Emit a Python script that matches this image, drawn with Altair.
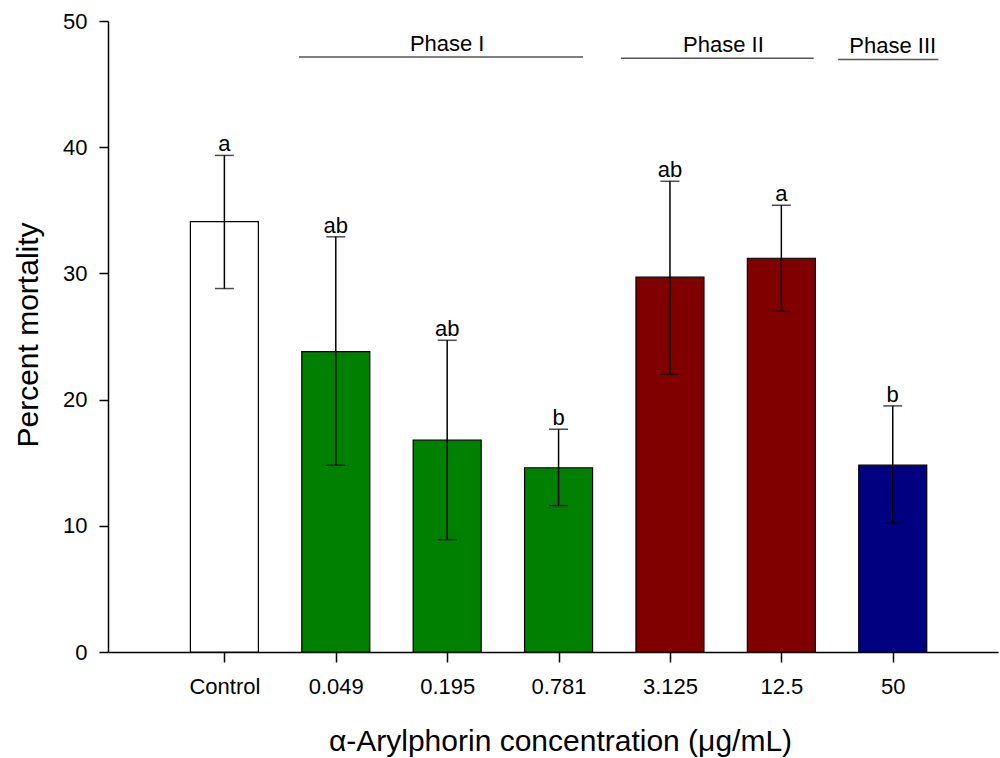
import altair as alt
import pandas as pd

# ---- data ----
categories = ["Control", "0.049", "0.195", "0.781", "3.125", "12.5", "50"]
means = [34.1, 23.8, 16.8, 14.6, 29.7, 31.2, 14.8]
err_hi = [39.35, 32.9, 24.7, 17.65, 37.3, 35.4, 19.5]
err_lo = [28.8, 14.8, 8.9, 11.6, 22.0, 27.0, 10.2]
letters = ["a", "ab", "ab", "b", "ab", "a", "b"]
bar_colors = ["#FFFFFF", "#008000", "#008000", "#008000", "#800000", "#800000", "#000080"]

phase_names = ["Phase I", "Phase II", "Phase III"]
phase_start = [1.67, 4.56, 6.51]
phase_end = [4.22, 6.29, 7.41]
phase_y = [47.15, 47.05, 46.95]
phase_label_x = [3.0, 5.48, 7.0]

FONT = "Liberation Sans"

df = pd.DataFrame({
    "pos": list(range(1, len(categories) + 1)),
    "cat": categories,
    "mean": means,
    "hi": err_hi,
    "lo": err_lo,
    "letter": letters,
    "color": bar_colors,
})
phases = pd.DataFrame({
    "name": phase_names,
    "start": phase_start,
    "end": phase_end,
    "y": phase_y,
    "lx": phase_label_x,
})

label_js = "[" + ",".join("'" + c + "'" for c in categories) + "][datum.value-1]"

xscale = alt.Scale(domain=[0, 7.9], nice=False, zero=False)
yscale = alt.Scale(domain=[0, 50], nice=False)

x_axis = alt.Axis(
    values=list(range(1, len(categories) + 1)),
    labelExpr=label_js,
    title="α-Arylphorin concentration (μg/mL)",
    titleX=452, titleY=98, titleAlign="center", titleBaseline="alphabetic",
    tickSize=10, labelPadding=14, grid=False, labelFlush=False, labelOverlap=False,
)
y_axis = alt.Axis(
    values=[0, 10, 20, 30, 40, 50],
    title="Percent mortality",
    titleX=-71, titleY=313.5, titleAngle=270, titleAlign="center",
    titleBaseline="alphabetic",
    tickSize=9, labelPadding=12, grid=False, labelFlush=False,
)

base = alt.Chart(df)

bars = base.mark_bar(size=68, stroke="black", strokeWidth=1.2).encode(
    x=alt.X("pos:Q", scale=xscale, axis=x_axis),
    y=alt.Y("mean:Q", scale=yscale, axis=y_axis),
    fill=alt.Fill("color:N", scale=None),
)

err = base.mark_rule(color="black", strokeWidth=1.5).encode(
    x=alt.X("pos:Q", scale=xscale),
    y=alt.Y("lo:Q", scale=yscale),
    y2="hi:Q",
)
cap_hi = base.mark_tick(orient="horizontal", size=19, thickness=1.5, color="black").encode(
    x=alt.X("pos:Q", scale=xscale),
    y=alt.Y("hi:Q", scale=yscale),
)
cap_lo = base.mark_tick(orient="horizontal", size=19, thickness=1.5, color="black").encode(
    x=alt.X("pos:Q", scale=xscale),
    y=alt.Y("lo:Q", scale=yscale),
)
lett = base.mark_text(font=FONT, fontSize=22, baseline="alphabetic", dy=-4, color="black").encode(
    x=alt.X("pos:Q", scale=xscale),
    y=alt.Y("hi:Q", scale=yscale),
    text="letter:N",
)

pbase = alt.Chart(phases)
prules = pbase.mark_rule(color="#555555", strokeWidth=1.5).encode(
    x=alt.X("start:Q", scale=xscale),
    x2="end:Q",
    y=alt.Y("y:Q", scale=yscale),
)
ptext = pbase.mark_text(font=FONT, fontSize=22, baseline="alphabetic", dy=-6, color="black").encode(
    x=alt.X("lx:Q", scale=xscale),
    y=alt.Y("y:Q", scale=yscale),
    text="name:N",
)

chart = alt.layer(bars, err, cap_hi, cap_lo, lett, prules, ptext).properties(
    width=890,
    height=631,
    autosize=alt.AutoSizeParams(type="none"),
    padding={"left": 108, "top": 21, "right": 2, "bottom": 106},
    background="white",
).configure_view(stroke=None).configure_axis(
    labelFont=FONT, titleFont=FONT,
    labelFontSize=22, titleFontSize=30, titleFontWeight="normal",
    labelColor="black", titleColor="black",
    domainColor="black", tickColor="black",
    domainWidth=1.5, tickWidth=1.5,
)

chart.save("out.html", embed_options={"renderer": "svg", "actions": False})
